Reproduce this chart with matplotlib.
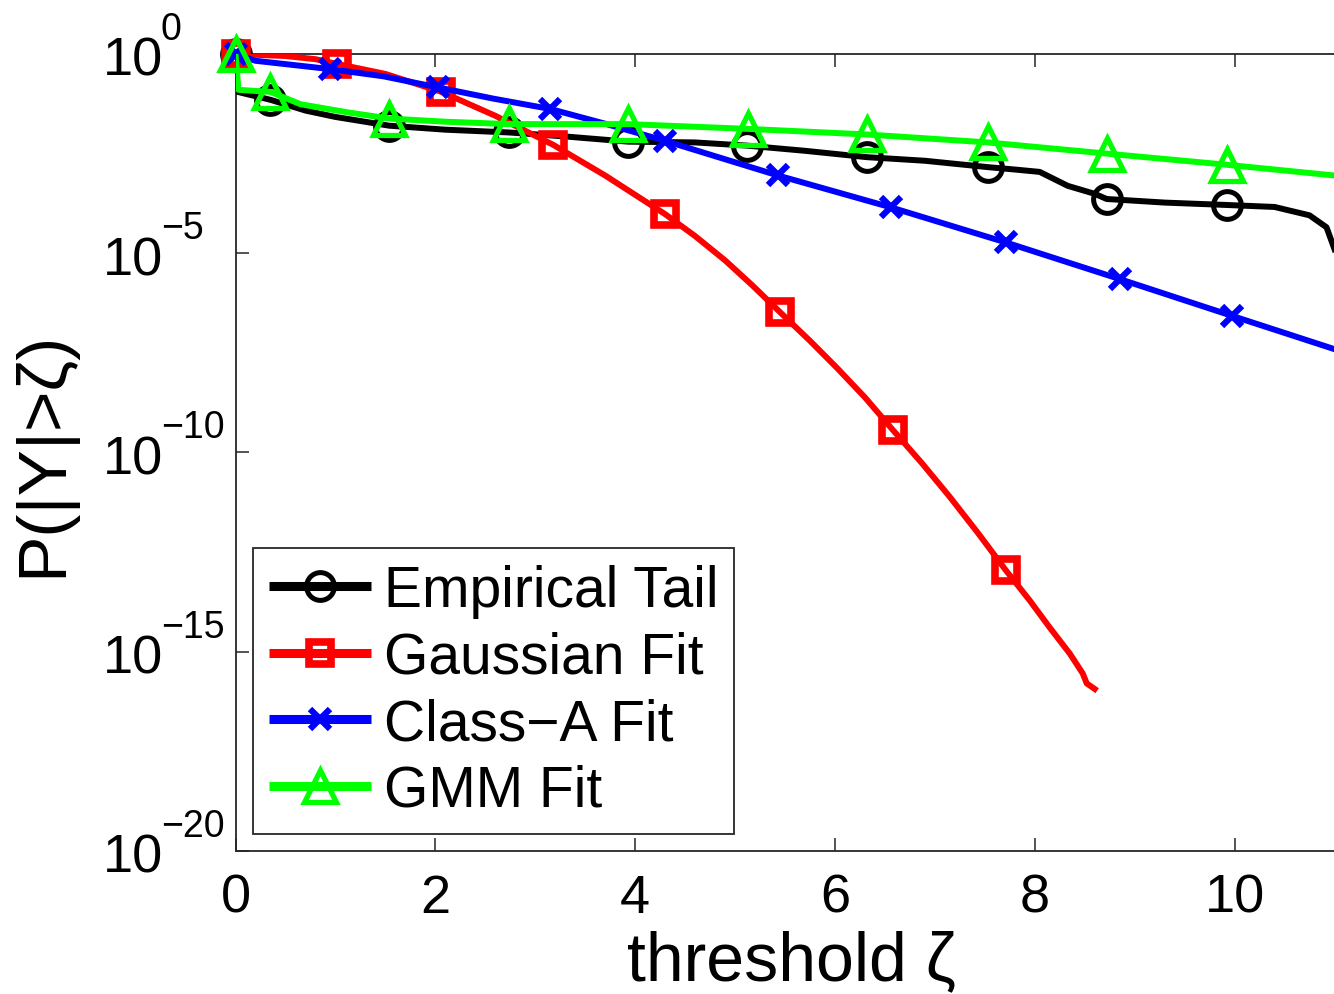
import numpy as np
import matplotlib
matplotlib.use("Agg")
import matplotlib.pyplot as plt
from matplotlib.lines import Line2D
from matplotlib.transforms import blended_transform_factory, offset_copy

plt.rcParams['font.family'] = ['Liberation Sans', 'DejaVu Sans']

# ---------------- data (log10 of P(|Y|>zeta)) ----------------
emp_x = [0, 0.02, 0.35, 0.7, 1.0, 1.54, 2.1, 2.74, 3.3, 3.93, 4.6, 5.12, 5.7,
         6.32, 6.9, 7.53, 7.8, 8.05, 8.33, 8.6, 8.72, 9.3, 9.92, 10.4, 10.75,
         10.92, 11.0]
emp_log = [0, -0.95, -1.15, -1.42, -1.58, -1.8, -1.9, -1.97, -2.07, -2.2, -2.22,
           -2.3, -2.43, -2.59, -2.68, -2.84, -2.9, -2.96, -3.31, -3.51, -3.64,
           -3.73, -3.79, -3.84, -4.05, -4.35, -4.9]
emp_marks = [0, 2, 5, 7, 9, 11, 13, 15, 20, 22]

gau_x = [0, 0.5, 0.8, 1.02, 1.5, 2.06, 2.6, 3.18, 3.7, 4.3, 4.6, 4.9, 5.17,
         5.45, 5.75, 6.02, 6.3, 6.58, 6.87, 7.15, 7.43, 7.71, 7.95, 8.15, 8.35,
         8.48, 8.52, 8.6]
gau_log = [0, -0.05, -0.13, -0.25, -0.5, -0.95, -1.55, -2.28, -3.05, -4.02,
           -4.57, -5.18, -5.8, -6.48, -7.2, -7.88, -8.62, -9.44, -10.27, -11.12,
           -12.02, -12.96, -13.72, -14.4, -15.05, -15.55, -15.8, -15.94]
gau_marks = [0, 3, 5, 7, 9, 13, 17, 21]

cla_x = [0, 0.2, 0.95, 1.48, 2.03, 2.58, 3.15, 3.7, 4.3, 5.43, 6.56, 7.71, 8.85,
         9.97, 11.0]
cla_log = [0, -0.17, -0.38, -0.56, -0.84, -1.12, -1.38, -1.75, -2.18, -3.05,
           -3.85, -4.73, -5.65, -6.57, -7.41]
cla_marks = [0, 2, 4, 6, 8, 9, 10, 11, 12, 13]

gmm_x = [0, 0.03, 0.35, 0.65, 1.11, 1.54, 2.1, 2.74, 3.93, 5.13, 6.32, 7.53,
         8.72, 9.92, 11.0]
gmm_log = [0, -0.9, -0.95, -1.26, -1.46, -1.62, -1.7, -1.76, -1.76, -1.88, -2.02,
           -2.22, -2.5, -2.78, -3.05]
gmm_marks = [0, 2, 5, 7, 8, 9, 10, 11, 12, 13]

labels = ['Empirical Tail', 'Gaussian Fit', 'Class\u2212A Fit', 'GMM Fit']
xticks = [0, 2, 4, 6, 8, 10]
yexps = [0, -5, -10, -15, -20]

# ---------------- figure ----------------
W, H = 1334, 995
fig = plt.figure(figsize=(W / 100, H / 100), dpi=100)
ax_left, ax_bot = 235.5 / W, (H - 851.7) / H
ax_w, ax_h = 1099.0 / W, (851.7 - 55.0) / H
ax = fig.add_axes([ax_left, ax_bot, ax_w, ax_h])
ax.set_yscale('log')

series = [
    (emp_x, emp_log, emp_marks, 'black', 'o', 20, 3.6),
    (gau_x, gau_log, gau_marks, '#ff0000', 's', 16, 5.5),
    (cla_x, cla_log, cla_marks, '#0000ff', 'x', 15, 4.5),
    (gmm_x, gmm_log, gmm_marks, '#00ff00', '^', 23, 3.8),
]
handles = []
for z, ((xs, ls, mk, c, m, ms, mew), lab) in enumerate(zip(series, labels)):
    xs = np.asarray(xs, float)
    ys = np.power(10.0, np.asarray(ls, float))
    ax.plot(xs, ys, color=c, lw=4.3, zorder=3 + z, solid_joinstyle='round')
    ax.plot(xs[mk], ys[mk], ls='none', marker=m, ms=ms, mew=mew, mec=c,
            mfc='none', zorder=3 + z, clip_on=False)
    handles.append(Line2D([], [], color=c, lw=6.5, marker=m, ms=ms, mew=mew,
                          mec=c, mfc='none', solid_capstyle='butt'))

ax.set_xlim(0, 11)
ax.set_ylim(1e-20, 1e0)
ax.set_xticks(xticks)
ax.set_xticklabels([str(t) for t in xticks])
ax.set_yticks([10.0 ** e for e in yexps])
ax.yaxis.set_minor_locator(matplotlib.ticker.NullLocator())
ax.set_yticklabels([])
spc = '#262626'
for s in ['left', 'bottom', 'top']:
    ax.spines[s].set_color(spc)
    ax.spines[s].set_linewidth(1.3)
ax.spines['right'].set_visible(False)
ax.tick_params(axis='both', which='major', direction='in', length=9.5,
               width=1.1, color=spc, top=True, right=False,
               labelsize=39, pad=16)
ax.tick_params(axis='y', pad=0)

# y tick labels "10^e" with the base aligned at a fixed left position
trans = blended_transform_factory(fig.transFigure, ax.transData)
t_base = offset_copy(trans, fig=fig, y=-21, units='dots')
t_exp = offset_copy(trans, fig=fig, y=15, units='dots')
for e in yexps:
    ax.text(103 / W, 10.0 ** e, '10', transform=t_base, ha='left',
            va='baseline', fontsize=39, clip_on=False)
    es = str(e).replace('-', '\u2212')
    ax.text(161 / W, 10.0 ** e, es, transform=t_exp, ha='left',
            va='baseline', fontsize=27, clip_on=False)

fig.text(791 / W, 1 - 980 / H, 'threshold \u03b6', ha='center', va='baseline',
         fontsize=49)
fig.text(43 / W, 1 - 454 / H, 'P(|Y|>\u03b6)', ha='center', va='center',
         rotation=90, fontsize=50)

leg = ax.legend(handles, labels, loc='lower left', fontsize=41,
                handlelength=1.8, handletextpad=0.22, borderpad=0.28,
                labelspacing=0.22, borderaxespad=0.3, fancybox=False,
                framealpha=1, numpoints=1)
leg.get_frame().set_edgecolor(spc)
leg.get_frame().set_linewidth(1.3)
leg.set_zorder(10)

fig.savefig('out.png', dpi=100)
